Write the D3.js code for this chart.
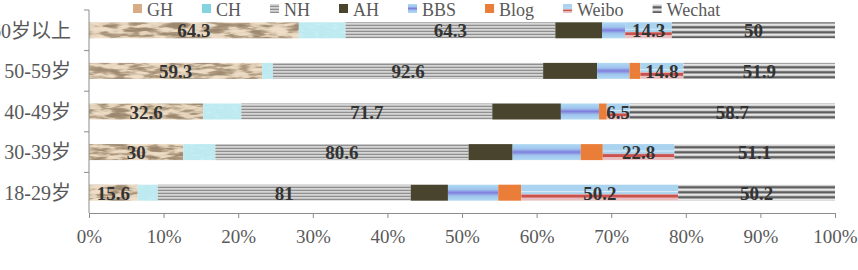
<!DOCTYPE html>
<html>
<head>
<meta charset="utf-8">
<script src="https://cdn.jsdelivr.net/npm/d3@7"></script>
<style>
  body { margin: 0; background: #fff; }
  .axis text { font-family: "Liberation Serif", "Noto Sans CJK SC", serif; fill: #595959; }
  .lbl { font-family: "Liberation Serif", serif; font-weight: bold; fill: #333; }
</style>
</head>
<body>
<svg id="chart" width="858" height="270"></svg>
<script>
// ----- data -----
const categories = ["60岁以上", "50-59岁", "40-49岁", "30-39岁", "18-29岁"];
const seriesNames = ["GH", "CH", "NH", "AH", "BBS", "Blog", "Weibo", "Wechat"];
const GH     = [64.3, 59.3, 32.6, 30,   15.6];
const CH     = [14.3, 3.7,  10.9, 10.2, 6.4];
const NH     = [64.3, 92.6, 71.7, 80.6, 81];
const AH     = [14.3, 18.5, 19.6, 14.0, 11.9];
const BBS    = [7.1,  11.1, 10.9, 21.7, 16.1];
const Blog   = [0,    3.7,  2.2,  7.0,  7.4];
const Weibo  = [14.3, 14.8, 6.5,  22.8, 50.2];
const Wechat = [50,   51.9, 58.7, 51.1, 50.2];
const labelled = ["GH", "NH", "Weibo", "Wechat"];
const xTicks = [0, 0.1, 0.2, 0.3, 0.4, 0.5, 0.6, 0.7, 0.8, 0.9, 1];

const values = {GH, CH, NH, AH, BBS, Blog, Weibo, Wechat};
const rows = categories.map((c, i) => {
    let r = {cat: c};
    seriesNames.forEach(s => r[s] = values[s][i]);
    return r;
});

const svg = d3.select("#chart");
const margins = {top: 10, right: 23, bottom: 57, left: 89};
const chartWidth = svg.attr("width") - margins.left - margins.right;
const chartHeight = svg.attr("height") - margins.top - margins.bottom;

// ----- fills -----
const defs = svg.append("defs");

function textureFilter(id, freq, seed, r, g, b) {
    const f = defs.append("filter").attr("id", id)
        .attr("x", 0).attr("y", 0).attr("width", 1).attr("height", 1);
    f.append("feTurbulence").attr("type", "fractalNoise")
        .attr("baseFrequency", freq).attr("numOctaves", 3).attr("seed", seed).attr("result", "n");
    f.append("feColorMatrix").attr("in", "n").attr("type", "matrix")
        .attr("values", "1 0 0 0 0  1 0 0 0 0  1 0 0 0 0  0 0 0 0 1").attr("result", "g");
    const ct = f.append("feComponentTransfer").attr("in", "g").attr("result", "c");
    ct.append("feFuncR").attr("type", "table").attr("tableValues", r);
    ct.append("feFuncG").attr("type", "table").attr("tableValues", g);
    ct.append("feFuncB").attr("type", "table").attr("tableValues", b);
    f.append("feComposite").attr("in", "c").attr("in2", "SourceGraphic").attr("operator", "in");
}
textureFilter("ghTex", "0.05 0.22", 4,
    "0.86 0.86 0.86 0.84 0.76 0.47 0.36 0.33 0.33 0.33",
    "0.73 0.73 0.73 0.71 0.63 0.36 0.27 0.24 0.24 0.24",
    "0.58 0.58 0.58 0.56 0.48 0.24 0.18 0.16 0.16 0.16");
textureFilter("chTex", "0.12 0.25", 7,
    "0.62 0.55 0.5 0.55 0.68",
    "0.87 0.84 0.82 0.85 0.9",
    "0.92 0.88 0.87 0.9 0.94");

function vGradient(id, stops) {
    const g = defs.append("linearGradient").attr("id", id)
        .attr("x1", 0).attr("y1", 0).attr("x2", 0).attr("y2", 1);
    stops.forEach(s => g.append("stop").attr("offset", s[0]).attr("stop-color", s[1]));
}
vGradient("bbsGrad", [[0, "#b0daf2"], [0.3, "#9fc4ee"], [0.5, "#7f7edc"], [0.7, "#9fc4ee"], [1, "#b0daf2"]]);
vGradient("weiboGrad", [[0, "#a9d3ef"], [0.38, "#a9d3ef"], [0.42, "#dbeef9"], [0.5, "#a9d3ef"], [0.58, "#a9d3ef"],
    [0.6, "#e6b3b2"], [0.66, "#c9524f"], [0.78, "#c9524f"], [0.82, "#e8b9b8"], [1, "#e8c6c6"]]);

function stripes(id, h, cols) {
    const p = defs.append("pattern").attr("id", id).attr("patternUnits", "userSpaceOnUse")
        .attr("width", 8).attr("height", h);
    cols.forEach((c, i) => p.append("rect").attr("x", 0).attr("y", i).attr("width", 8).attr("height", 1).attr("fill", c));
}
stripes("nhPat", 3, ["#8f8f8f", "#d6d6d6", "#c4c4c4"]);
stripes("wcPat", 5, ["#cfcfcf", "#7a7a7a", "#5f5f5f", "#a3a3a3", "#e6e6e6"]);

const fills = {
    GH: {fill: "#d6b08a", filter: "url(#ghTex)", sw: "#d8ad85"},
    CH: {fill: "#8ad6e0", filter: "url(#chTex)", sw: "#84d3df"},
    NH: {fill: "url(#nhPat)", sw: "url(#nhPat)"},
    AH: {fill: "#49442e", sw: "#49442e"},
    BBS: {fill: "url(#bbsGrad)", sw: "url(#bbsGrad)"},
    Blog: {fill: "#ea7d38", sw: "#ea7d38"},
    Weibo: {fill: "url(#weiboGrad)", sw: "url(#weiboGrad)"},
    Wechat: {fill: "url(#wcPat)", sw: "url(#wcPat)"}
};

// ----- scales -----
const scaleX = d3.scaleLinear().domain([0, 1]).range([0, chartWidth]);
const scaleY = d3.scaleBand().domain(categories).range([0, chartHeight])
    .paddingInner(0.606).paddingOuter(0.303);

const chartArea = svg.append("g")
    .attr("transform", `translate(${margins.left},${margins.top})`);

const stacked = d3.stack().keys(seriesNames).offset(d3.stackOffsetExpand)(rows);

// bars
const layers = chartArea.selectAll("g.layer")
    .data(stacked)
    .join("g")
    .attr("class", "layer");
layers.selectAll("rect")
    .data(d => d.map(v => ({key: d.key, v: v})))
    .join("rect")
    .attr("x", d => scaleX(d.v[0]))
    .attr("y", d => scaleY(d.v.data.cat))
    .attr("width", d => scaleX(d.v[1]) - scaleX(d.v[0]))
    .attr("height", scaleY.bandwidth())
    .attr("fill", d => fills[d.key].fill)
    .attr("filter", d => fills[d.key].filter || null);

// value labels
layers.filter(d => labelled.includes(d.key))
    .selectAll("text")
    .data(d => d.map(v => ({key: d.key, v: v})))
    .join("text")
    .attr("class", "lbl")
    .attr("font-size", 19)
    .attr("text-anchor", "middle")
    .attr("x", d => scaleX((d.v[0] + d.v[1]) / 2))
    .attr("y", d => scaleY(d.v.data.cat) + scaleY.bandwidth() / 2 + 7)
    .text(d => String(d.v.data[d.key]));

// y axis
const leftAxis = d3.axisLeft(scaleY).tickSize(0).tickPadding(18);
const yAxisG = chartArea.append("g").attr("class", "axis").call(leftAxis);
yAxisG.select(".domain").remove();
yAxisG.selectAll("text").attr("font-size", 20).attr("dy", "0.36em");
chartArea.append("line")
    .attr("x1", 0).attr("x2", 0).attr("y1", 0).attr("y2", chartHeight)
    .attr("stroke", "#8c8c8c");
chartArea.selectAll("line.ytick")
    .data(categories)
    .join("line")
    .attr("class", "ytick")
    .attr("x1", -5).attr("x2", 0)
    .attr("y1", d => scaleY(d) - scaleY.step() * scaleY.paddingInner() / 2)
    .attr("y2", d => scaleY(d) - scaleY.step() * scaleY.paddingInner() / 2)
    .attr("stroke", "#8c8c8c");

// x axis
const bottomAxis = d3.axisBottom(scaleX).tickValues(xTicks).tickFormat(d3.format(".0%"))
    .tickSize(5).tickSizeOuter(0).tickPadding(12);
const xAxisG = chartArea.append("g")
    .attr("class", "axis")
    .attr("transform", `translate(0,${chartHeight})`)
    .call(bottomAxis);
xAxisG.selectAll("line, .domain").attr("stroke", "#8c8c8c");
xAxisG.selectAll("text").attr("font-size", 19);

// legend
const legend = svg.append("g").attr("transform", "translate(133,0)");
let lx = 0;
seriesNames.forEach(s => {
    const item = legend.append("g").attr("transform", `translate(${lx},0)`);
    item.append("rect").attr("x", 0).attr("y", 4).attr("width", 9).attr("height", 9)
        .attr("fill", fills[s].sw);
    const t = item.append("text").attr("x", 14).attr("y", 16)
        .attr("font-family", "Liberation Serif, serif").attr("font-size", 18)
        .attr("fill", "#595959").text(s);
    lx += 14 + t.node().getComputedTextLength() + 29;
});
</script>
</body>
</html>
